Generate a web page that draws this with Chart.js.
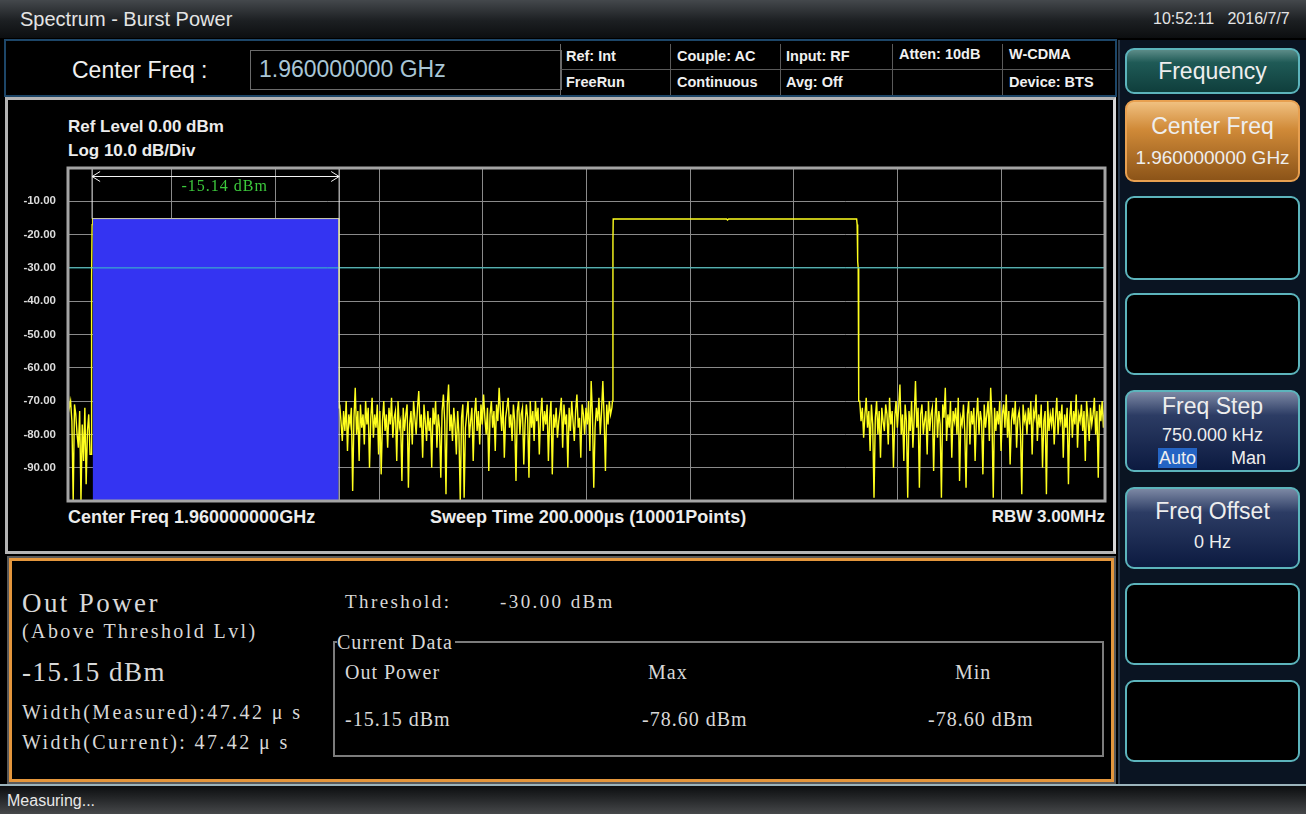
<!DOCTYPE html>
<html>
<head>
<meta charset="utf-8">
<script src="https://cdn.jsdelivr.net/npm/chart.js@4.4.1/dist/chart.umd.min.js"></script>
<style>
  html, body { margin: 0; padding: 0; background: #000; }
  body { width: 1306px; height: 814px; position: relative; overflow: hidden; font-family: "Liberation Sans", Arial, sans-serif; }
  .t { position: absolute; white-space: nowrap; line-height: 1; }
  .ui { font-family: "Liberation Sans", Arial, sans-serif; }
  .b { font-weight: bold; }
  .serif { font-family: "Liberation Serif", "DejaVu Serif", serif; color: #d8d8d8; letter-spacing: 1px; }
  .wide { letter-spacing: 2.4px; }
  .box { position: absolute; box-sizing: border-box; }
  .btn { position: absolute; left: 1125px; width: 175px; box-sizing: border-box; border: 2px solid #5cb4bc; border-radius: 9px; background: #000; color: #eee; text-align: center; }
  .btn .t { left: 0; right: 0; text-align: center; }
</style>
</head>
<body>

<!-- title bar -->
<div class="box" style="left:0;top:0;width:1306px;height:38px;background:linear-gradient(#44484c,#1c1f22 55%,#0c0e10);"></div>
<div class="t ui" style="left:20px;top:9px;font-size:20px;color:#e4e4e4;">Spectrum - Burst Power</div>
<div class="t ui" style="left:1153px;top:11px;font-size:16px;color:#e4e4e4;">10:52:11&nbsp;&nbsp;&nbsp;2016/7/7</div>

<!-- info bar -->
<div class="box" style="left:4px;top:39px;width:1113px;height:58px;border:2px solid #1d4668;background:#000;"></div>
<div class="t ui" style="left:72px;top:59px;font-size:23px;color:#f0f0f0;">Center Freq :</div>
<div class="box" style="left:250px;top:50px;width:312px;height:40px;border:1px solid #6a6a6a;"></div>
<div class="t ui" style="left:259px;top:58px;font-size:23px;color:#a9c6d6;">1.960000000 GHz</div>
<div class="box" style="left:560px;top:44px;width:553px;height:51px;border-left:1px solid #6a6a6a;"></div>
<div class="box" style="left:560px;top:69px;width:553px;height:1px;background:#5a5a5a;"></div>
<div class="box" style="left:670px;top:44px;width:1px;height:51px;background:#5a5a5a;"></div>
<div class="box" style="left:780px;top:44px;width:1px;height:51px;background:#5a5a5a;"></div>
<div class="box" style="left:892px;top:44px;width:1px;height:51px;background:#5a5a5a;"></div>
<div class="box" style="left:1002px;top:44px;width:1px;height:51px;background:#5a5a5a;"></div>
<div class="t ui b" style="left:566px;top:49px;font-size:14.5px;color:#f0f0f0;">Ref: Int</div>
<div class="t ui b" style="left:677px;top:49px;font-size:14.5px;color:#f0f0f0;">Couple: AC</div>
<div class="t ui b" style="left:786px;top:49px;font-size:14.5px;color:#f0f0f0;">Input: RF</div>
<div class="t ui b" style="left:899px;top:47px;font-size:14.5px;color:#f0f0f0;">Atten: 10dB</div>
<div class="t ui b" style="left:1009px;top:47px;font-size:14.5px;color:#f0f0f0;">W-CDMA</div>
<div class="t ui b" style="left:566px;top:75px;font-size:14.5px;color:#f0f0f0;">FreeRun</div>
<div class="t ui b" style="left:677px;top:75px;font-size:14.5px;color:#f0f0f0;">Continuous</div>
<div class="t ui b" style="left:786px;top:75px;font-size:14.5px;color:#f0f0f0;">Avg: Off</div>
<div class="t ui b" style="left:1009px;top:75px;font-size:14.5px;color:#f0f0f0;">Device: BTS</div>

<!-- chart panel -->
<div class="box" style="left:5px;top:97px;width:1111px;height:457px;border:3px solid #b4b4b4;border-right-color:#d8d8d8;background:#000;"></div>
<div class="t ui b" style="left:68px;top:118px;font-size:17px;color:#ececec;">Ref Level 0.00 dBm</div>
<div class="t ui b" style="left:68px;top:142px;font-size:17px;color:#ececec;">Log 10.0 dB/Div</div>
<div class="t ui b" style="left:68px;top:508px;font-size:18px;color:#ececec;">Center Freq 1.960000000GHz</div>
<div class="t ui b" style="left:430px;top:508px;font-size:18px;color:#ececec;">Sweep Time 200.000µs (10001Points)</div>
<div class="t ui b" style="right:201px;top:508px;font-size:17px;color:#ececec;">RBW 3.00MHz</div>
<canvas id="trace" width="1104" height="350" style="position:absolute;left:8px;top:160px;"></canvas>

<!-- result panel -->
<div class="box" style="left:7px;top:556px;width:1109px;height:228px;border:2px solid #5a5a5a;"></div>
<div class="box" style="left:9px;top:558px;width:1105px;height:224px;border:3px solid #e4963c;"></div>
<div class="t serif wide" style="left:22px;top:590px;font-size:27px;">Out Power</div>
<div class="t serif wide" style="left:22px;top:621px;font-size:20px;">(Above Threshold Lvl)</div>
<div class="t serif wide" style="left:22px;top:659px;font-size:27px;letter-spacing:1.5px;">-15.15 dBm</div>
<div class="t serif wide" style="left:22px;top:702px;font-size:20px;">Width(Measured):47.42 μ s</div>
<div class="t serif wide" style="left:22px;top:732px;font-size:20px;">Width(Current): 47.42 μ s</div>
<div class="t serif wide" style="left:345px;top:592px;font-size:19px;">Threshold:</div>
<div class="t serif wide" style="left:500px;top:592px;font-size:19px;">-30.00 dBm</div>
<div class="box" style="left:333px;top:641px;width:771px;height:116px;border:2px solid #7c7c7c;"></div>
<div class="t serif" style="left:337px;top:632px;font-size:20px;background:#000;padding-right:2px;">Current Data</div>
<div class="t serif" style="left:345px;top:662px;font-size:20px;">Out Power</div>
<div class="t serif" style="left:648px;top:662px;font-size:20px;">Max</div>
<div class="t serif" style="left:955px;top:662px;font-size:20px;">Min</div>
<div class="t serif" style="left:345px;top:709px;font-size:20px;">-15.15 dBm</div>
<div class="t serif" style="left:642px;top:709px;font-size:20px;">-78.60 dBm</div>
<div class="t serif" style="left:928px;top:709px;font-size:20px;">-78.60 dBm</div>

<!-- soft keys -->
<div class="box" style="left:1118px;top:40px;width:188px;height:746px;background:#0a1422;border-left:2px solid #2a3a4c;"></div>
<div class="btn" style="top:48px;height:46px;background:linear-gradient(#5c8c88,#1f5a56 30%,#0f3e3c);">
  <div class="t" style="top:10px;font-size:23px;">Frequency</div>
</div>
<div class="btn" style="top:100px;height:82px;border-color:#e8a050;background:linear-gradient(#f0c080,#d08a38 35%,#8c5418);">
  <div class="t" style="top:13px;font-size:23px;">Center Freq</div>
  <div class="t" style="top:46px;font-size:19px;">1.960000000 GHz</div>
</div>
<div class="btn" style="top:196px;height:84px;"></div>
<div class="btn" style="top:293px;height:82px;"></div>
<div class="btn" style="top:390px;height:82px;background:linear-gradient(#7c88a4,#2c3c64 30%,#0c1a40);">
  <div class="t" style="top:3px;font-size:23px;">Freq Step</div>
  <div class="t" style="top:34px;font-size:18px;">750.000 kHz</div>
  <div class="t" style="top:56px;font-size:18px;left:31px;right:auto;background:#2464c4;padding:1px 1px;">Auto</div>
  <div class="t" style="top:57px;font-size:18px;left:104px;right:auto;">Man</div>
</div>
<div class="btn" style="top:487px;height:82px;background:linear-gradient(#7c88a4,#2c3c64 30%,#0c1a40);">
  <div class="t" style="top:11px;font-size:23px;">Freq Offset</div>
  <div class="t" style="top:44px;font-size:18px;">0 Hz</div>
</div>
<div class="btn" style="top:583px;height:82px;"></div>
<div class="btn" style="top:680px;height:82px;"></div>

<!-- status bar -->
<div class="box" style="left:0;top:784px;width:1306px;height:2px;background:#9cb4bc;"></div>
<div class="box" style="left:0;top:786px;width:1306px;height:28px;background:linear-gradient(#0c0e10,#222426 40%,#46484a);"></div>
<div class="t ui" style="left:7px;top:793px;font-size:16px;color:#e8e8e8;">Measuring...</div>

<script>
// sweep: 200 us across 10 divisions, level axis in dBm
const sweepTime = 200;
const refLevel = 0;
const bottomLevel = -100;
const thresholdLevel = -30;
const sampleStep = 0.25;

// trace samples (dBm)
const noiseLeftStart = 0;
const noiseLeft = [-67, -72, -70, -76, -100, -71, -74, -80, -84, -73, -100, -77, -88, -72, -95, -79, -74, -86];

const noiseMidStart = 52.4;
const noiseMid = [
  -71, -76, -82, -73, -79, -70, -85, -74, -77, -72,
  -97, -75, -66, -80, -73, -88, -71, -78, -74, -83,
  -70, -77, -72, -90, -75, -69, -81, -74, -78, -71,
  -86, -73, -92, -76, -70, -79, -74, -84, -72, -77,
  -69, -81, -75, -73, -88, -70, -78, -76, -94, -72,
  -79, -74, -71, -96, -77, -73, -83, -70, -75, -80,
  -72, -67, -78, -74, -87, -71, -76, -82, -73, -79,
  -75, -90, -72, -77, -70, -84, -74, -78, -93, -73,
  -68, -76, -98, -71, -65, -79, -74, -82, -72, -77,
  -86, -73, -80, -100, -75, -71, -99, -78, -74, -70,
  -81, -76, -72, -88, -74, -69, -79, -73, -83, -71,
  -77, -68, -75, -80, -72, -91, -74, -70, -78, -73,
  -85, -71, -76, -66, -73, -79, -70, -87, -75, -72,
  -69, -78, -74, -82, -71, -76, -94, -73, -70, -80,
  -74, -72, -89, -77, -71, -75, -93, -70, -78, -73,
  -82, -70, -76, -72, -86, -74, -69, -79, -73, -77,
  -71, -88, -75, -70, -92, -74, -78, -72, -81, -76,
  -73, -69, -84, -71, -77, -74, -90, -72, -79, -70,
  -76, -82, -73, -68, -78, -75, -87, -71, -74, -80,
  -72, -77, -70, -85, -64, -74, -96, -78, -72, -76,
  -69, -80, -73, -64, -75, -91, -71, -77, -70, -74,
  -72
];

const noiseRightStart = 152.7;
const noiseRight = [
  -70, -76, -72, -81, -74, -69, -78, -73, -85, -71,
  -77, -99, -75, -70, -80, -73, -87, -72, -76, -79,
  -71, -74, -83, -69, -77, -73, -90, -75, -70, -78,
  -72, -65, -80, -74, -88, -71, -76, -99, -73, -79,
  -70, -84, -75, -64, -78, -72, -96, -74, -71, -80,
  -76, -73, -86, -70, -79, -74, -72, -91, -75, -69,
  -81, -73, -77, -99, -71, -75, -66, -82, -74, -78,
  -70, -87, -73, -76, -72, -80, -69, -94, -75, -77,
  -71, -79, -96, -74, -70, -83, -73, -77, -72, -88,
  -75, -69, -80, -73, -76, -92, -71, -78, -74, -70,
  -82, -66, -75, -99, -72, -79, -73, -77, -70, -85,
  -74, -71, -78, -68, -81, -73, -89, -76, -72, -77,
  -70, -84, -75, -73, -79, -98, -71, -76, -74, -80,
  -72, -77, -70, -86, -73, -75, -68, -82, -74, -78,
  -71, -90, -76, -73, -98, -70, -79, -74, -77, -72,
  -83, -75, -69, -80, -73, -76, -71, -87, -74, -78,
  -72, -95, -75, -70, -81, -73, -77, -68, -84, -74,
  -76, -71, -79, -73, -88, -70, -75, -82, -72, -77,
  -74, -69, -80, -73, -93, -71, -76, -70, -78, -72
];

// burst edges and flat tops: [time us, dBm]
const burst1 = [[4.5, -86], [4.55, -33], [4.65, -17], [4.75, -15.2], [52.2, -15.2], [52.25, -48], [52.3, -72]];
const burst2 = [[105.0, -70], [105.1, -22], [105.15, -15.3], [127.0, -15.3], [127.2, -15.6], [127.4, -15.3],
                [152.1, -15.3], [152.2, -17], [152.3, -28], [152.4, -30], [152.5, -70]];

// measured burst (filled) and marker readout
const measStart = 4.75;
const measEnd = 52.2;
const measLevel = -15.2;
const markerText = '-15.14 dBm';

const samples = (start, vals) => vals.map((v, i) => ({ x: start + i * sampleStep, y: v }));
const pairs = arr => arr.map(p => ({ x: p[0], y: p[1] }));

const tracePoints = [].concat(
  samples(noiseLeftStart, noiseLeft),
  pairs(burst1),
  samples(noiseMidStart, noiseMid),
  pairs(burst2),
  samples(noiseRightStart, noiseRight)
);

const frame = {
  id: 'frame',
  afterDatasetsDraw(chart) {
    const { ctx, chartArea: a, scales: { x, y } } = chart;
    ctx.save();
    // measurement bracket
    const x1 = x.getPixelForValue(measStart) - 0.5;
    const x2 = x.getPixelForValue(measEnd) + 0.5;
    const ay = a.top + 8.5;
    ctx.strokeStyle = '#f4f4f4';
    ctx.lineWidth = 1;
    ctx.beginPath();
    ctx.moveTo(x1, a.top); ctx.lineTo(x1, y.getPixelForValue(measLevel));
    ctx.moveTo(x2, a.top); ctx.lineTo(x2, a.bottom);
    ctx.moveTo(x1, ay); ctx.lineTo(x2, ay);
    ctx.moveTo(x1 + 8, ay - 5); ctx.lineTo(x1, ay); ctx.lineTo(x1 + 8, ay + 5);
    ctx.moveTo(x2 - 8, ay - 5); ctx.lineTo(x2, ay); ctx.lineTo(x2 - 8, ay + 5);
    ctx.stroke();
    ctx.fillStyle = '#3cc83c';
    ctx.font = '16px "Liberation Serif", serif';
    ctx.letterSpacing = '1px';
    ctx.textAlign = 'center';
    ctx.textBaseline = 'middle';
    ctx.fillText(markerText, (x1 + x2) / 2 + 9, a.top + 19);
    ctx.letterSpacing = '0px';
    // plot frame
    ctx.strokeStyle = '#a4a4a4';
    ctx.lineWidth = 3;
    ctx.strokeRect(a.left, a.top, a.right - a.left, a.bottom - a.top);
    ctx.restore();
  }
};

new Chart(document.getElementById('trace').getContext('2d'), {
  type: 'line',
  data: {
    datasets: [
      {
        data: [{ x: 0, y: thresholdLevel }, { x: sweepTime, y: thresholdLevel }],
        borderColor: '#3cc4c4',
        borderWidth: 1,
        pointRadius: 0,
        order: 0
      },
      {
        data: [{ x: measStart, y: measLevel }, { x: measEnd, y: measLevel }],
        borderColor: '#c8c8b0',
        borderWidth: 1,
        backgroundColor: '#3434f2',
        fill: 'start',
        pointRadius: 0,
        order: 1
      },
      {
        data: tracePoints,
        borderColor: '#ffff1e',
        borderWidth: 1.4,
        pointRadius: 0,
        tension: 0,
        order: 2
      }
    ]
  },
  options: {
    responsive: false,
    animation: false,
    events: [],
    layout: { padding: { left: 0, right: 7, top: 8, bottom: 9 } },
    plugins: { legend: { display: false }, tooltip: { enabled: false } },
    scales: {
      x: {
        type: 'linear',
        min: 0,
        max: sweepTime,
        ticks: { display: false, stepSize: 20 },
        grid: { color: '#8a8a8a', lineWidth: 1, drawTicks: false },
        border: { display: false },
        afterFit: s => { s.height = 0; s.paddingLeft = 0; s.paddingRight = 0; }
      },
      y: {
        min: bottomLevel,
        max: refLevel,
        ticks: {
          stepSize: 10,
          padding: 12,
          color: '#dcdcdc',
          font: { family: '"Liberation Sans", Arial, sans-serif', size: 11.5, weight: 'bold' },
          callback: v => (v === refLevel || v === bottomLevel) ? '' : v.toFixed(2)
        },
        grid: { color: '#8a8a8a', lineWidth: 1, drawTicks: false },
        border: { display: false },
        afterFit: s => { s.width = 60; s.paddingTop = 0; s.paddingBottom = 0; }
      }
    }
  },
  plugins: [frame]
});
</script>
</body>
</html>
